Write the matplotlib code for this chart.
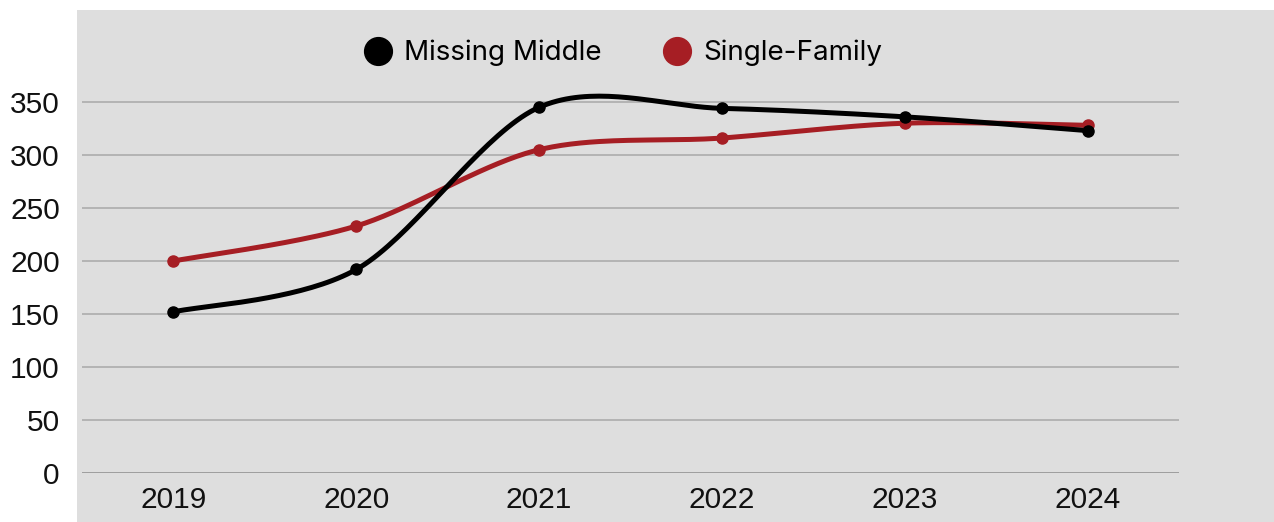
import numpy as np
import matplotlib.pyplot as plt
from matplotlib.lines import Line2D
from matplotlib.patches import Rectangle

years = ['2019', '2020', '2021', '2022', '2023', '2024']
missing_middle = [152, 192, 345, 344, 336, 323]
single_family = [200, 233, 305, 316, 330, 328]
y_ticks = [0, 50, 100, 150, 200, 250, 300, 350]

BLACK = '#000000'
RED = '#a61e24'
PANEL = '#dedede'
GRID = '#a8a8a8'


def smooth(xs, ys, k=0.155, steps=40):
    # cardinal-spline curve through every point, ends held fixed
    xs = np.asarray(xs, float)
    ys = np.asarray(ys, float)
    px = np.concatenate([[xs[0]], xs, [xs[-1]]])
    py = np.concatenate([[ys[0]], ys, [ys[-1]]])
    out_x, out_y = [], []
    for i in range(1, len(px) - 2):
        p0 = np.array([px[i], py[i]])
        p3 = np.array([px[i + 1], py[i + 1]])
        c1 = p0 + (p3 - np.array([px[i - 1], py[i - 1]])) * k
        c2 = p3 - (np.array([px[i + 2], py[i + 2]]) - p0) * k
        t = np.linspace(0, 1, steps)[:, None]
        pts = ((1 - t) ** 3) * p0 + 3 * ((1 - t) ** 2) * t * c1 \
            + 3 * (1 - t) * t ** 2 * c2 + t ** 3 * p3
        out_x.extend(pts[:, 0])
        out_y.extend(pts[:, 1])
    return out_x, out_y


W, H = 1274, 522
fig = plt.figure(figsize=(W / 100, H / 100), dpi=100)
fig.patch.set_facecolor('white')
fig.patches.append(Rectangle((77 / W, 0), 1 - 77 / W, (H - 10) / H,
                             transform=fig.transFigure, facecolor=PANEL,
                             edgecolor='none', zorder=-5))

ax = fig.add_axes([82 / W, (H - 473) / H, (1179 - 82) / W, (473 - 49) / H])
ax.set_zorder(2)
ax.set_facecolor('none')
for s in ax.spines.values():
    s.set_visible(False)

x = np.arange(len(years))
ax.set_xlim(-0.5, len(years) - 0.5)
ax.set_ylim(0, 400)

for v in y_ticks:
    ax.axhline(v, color='#8c8c8c' if v == 0 else GRID, lw=1.1, zorder=1)

for vals, col in [(single_family, RED), (missing_middle, BLACK)]:
    sx, sy = smooth(x, vals)
    ax.plot(sx, sy, color=col, lw=3.6, solid_capstyle='round', zorder=3)
    ax.plot(x, vals, 'o', color=col, ms=8, zorder=4)

ax.set_xticks(x)
ax.set_xticklabels(years)
ax.set_yticks(y_ticks)
ax.tick_params(length=0, labelsize=21.5, labelcolor='#111111')
ax.tick_params(axis='y', pad=16)
ax.tick_params(axis='x', pad=9)
for lab in ax.get_xticklabels() + ax.get_yticklabels():
    lab.set_family('Liberation Sans')

handles = [Line2D([], [], ls='none', marker='o', ms=20, color=BLACK),
           Line2D([], [], ls='none', marker='o', ms=20, color=RED)]
fig.legend(handles, ['Missing Middle', 'Single-Family'], ncol=2,
           loc='center', bbox_to_anchor=(623 / W, (H - 53) / H),
           frameon=False, prop={'family': 'Inter', 'size': 20},
           handletextpad=0.45, columnspacing=2.2, handlelength=1.0)

fig.savefig('out.png', dpi=100)
